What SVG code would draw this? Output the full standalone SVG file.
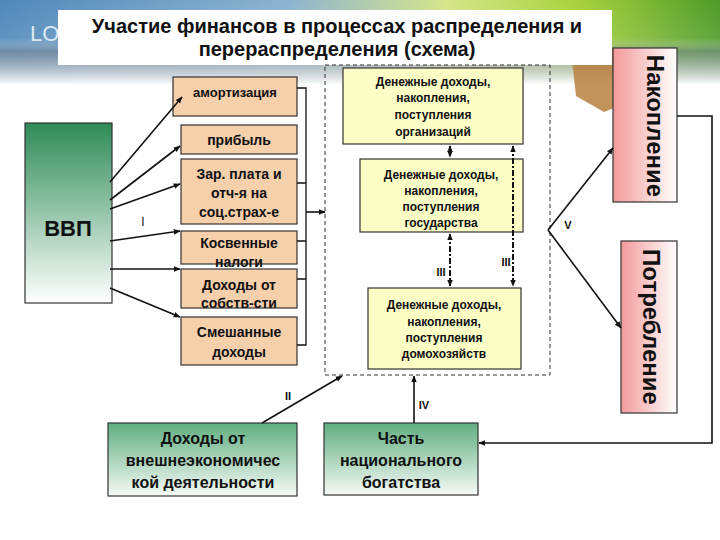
<svg xmlns="http://www.w3.org/2000/svg" width="720" height="540" viewBox="0 0 720 540">
<defs>
<linearGradient id="sky" x1="0" y1="0" x2="1" y2="0">
<stop offset="0" stop-color="#4f88ba"/>
<stop offset="0.4" stop-color="#8db3cf"/>
<stop offset="0.62" stop-color="#d6e58a"/>
<stop offset="0.8" stop-color="#a9d23c"/>
<stop offset="1" stop-color="#4e9a2a"/>
</linearGradient>
<linearGradient id="fade" x1="0" y1="0" x2="0" y2="1">
<stop offset="0" stop-color="#ffffff" stop-opacity="0"/>
<stop offset="0.45" stop-color="#ffffff" stop-opacity="0.1"/>
<stop offset="0.6" stop-color="#7f8c96" stop-opacity="0.6"/>
<stop offset="1" stop-color="#ffffff" stop-opacity="1"/>
</linearGradient>
<linearGradient id="gdp" x1="0" y1="0" x2="0" y2="1">
<stop offset="0" stop-color="#2e8b57"/>
<stop offset="1" stop-color="#ffffff"/>
</linearGradient>
<linearGradient id="grn" x1="0" y1="0" x2="0" y2="1">
<stop offset="0" stop-color="#5fae80"/>
<stop offset="1" stop-color="#f6faf6"/>
</linearGradient>
<linearGradient id="pink" x1="0" y1="0" x2="1" y2="0">
<stop offset="0" stop-color="#f39a9a"/>
<stop offset="1" stop-color="#ffffff"/>
</linearGradient>
<marker id="ah" viewBox="0 0 10 10" refX="9" refY="5" markerWidth="7" markerHeight="7" orient="auto-start-reverse" markerUnits="userSpaceOnUse">
<path d="M0,1 L10,5 L0,9 z" fill="#111"/>
</marker>
<style>
text{font-family:"Liberation Sans",Arial,sans-serif;font-weight:bold;fill:#111;text-anchor:middle}
.org rect{fill:#f6cfab;stroke:#333;stroke-width:1.2}
.org text{font-size:14px}
.yel rect{fill:#fdfdc6;stroke:#333;stroke-width:1.2}
.yel text{font-size:12px}
.gr rect{fill:url(#grn);stroke:#333;stroke-width:1.2}
.gr text{font-size:16px}
.pk rect{fill:url(#pink);stroke:#333;stroke-width:1.2}
.pk text{font-size:24px}
.ln{fill:none;stroke:#111;stroke-width:1.3}
.ar{fill:none;stroke:#111;stroke-width:1.6;marker-end:url(#ah)}
.dd{fill:none;stroke:#111;stroke-width:2;stroke-dasharray:6,2,2,2;marker-start:url(#ah);marker-end:url(#ah)}
.lbl{font-size:11px}
</style>
</defs>
<rect x="0" y="0" width="720" height="540" fill="#ffffff"/>
<rect x="0" y="0" width="720" height="85" fill="url(#sky)"/>
<rect x="0" y="0" width="720" height="85" fill="url(#fade)"/>
<polygon points="572,60 605,46 636,56 634,100 604,112 576,96" fill="#b9803f" opacity="0.85"/>
<text x="30" y="41" style="font-size:22px;fill:#dbe8f2;font-weight:normal;text-anchor:start">LOGO</text>
<g id="title">
<rect x="58" y="10" width="554" height="55" fill="#ffffff"/>
<text x="337" y="33" style="font-size:20px">Участие финансов в процессах распределения и</text>
<text x="337" y="56" style="font-size:20px">перераспределения (схема)</text>
</g>
<g id="container">
<rect x="325" y="65" width="225" height="310" fill="none" stroke="#333" stroke-width="1" stroke-dasharray="4,3"/>
</g>
<g id="vvp">
<rect x="25" y="123" width="87" height="180" fill="url(#gdp)" stroke="#333" stroke-width="1.2"/>
<text x="68" y="236" style="font-size:22px">ВВП</text>
</g>
<g id="amort" class="org"><rect x="173" y="77" width="124" height="39"/><text x="235" y="97" style="font-size:13px">амортизация</text></g>
<g id="profit" class="org"><rect x="181" y="125" width="116" height="29"/><text x="239" y="145">прибыль</text></g>
<g id="wage" class="org"><rect x="181" y="159" width="116" height="65"/><text x="239" y="179">Зар. плата и</text><text x="239" y="198">отч-я на</text><text x="239" y="217">соц.страх-е</text></g>
<g id="tax" class="org"><rect x="181" y="231" width="116" height="33"/><text x="239" y="248">Косвенные</text><text x="239" y="267">налоги</text></g>
<g id="prop" class="org"><rect x="181" y="269" width="116" height="39"/><text x="239" y="290">Доходы от</text><text x="239" y="308">собств-сти</text></g>
<g id="mixed" class="org"><rect x="181" y="317" width="116" height="48"/><text x="239" y="337">Смешанные</text><text x="239" y="357">доходы</text></g>
<g id="orgs" class="yel"><rect x="343" y="68" width="180" height="76"/><text x="433" y="86">Денежные доходы,</text><text x="433" y="102">накопления,</text><text x="433" y="119">поступления</text><text x="433" y="136">организаций</text></g>
<g id="state" class="yel"><rect x="360" y="159" width="163" height="73"/><text x="441" y="179">Денежные доходы,</text><text x="441" y="195">накопления,</text><text x="441" y="211">поступления</text><text x="441" y="227">государства</text></g>
<g id="house" class="yel"><rect x="368" y="288" width="153" height="81"/><text x="444" y="309">Денежные доходы,</text><text x="444" y="326">накопления,</text><text x="444" y="342">поступления</text><text x="444" y="358">домохозяйств</text></g>
<g id="foreign" class="gr"><rect x="108" y="423" width="189" height="73"/><text x="203" y="444">Доходы от</text><text x="203" y="466">внешнеэкономичес</text><text x="203" y="488">кой деятельности</text></g>
<g id="wealth" class="gr"><rect x="324" y="423" width="154" height="72"/><text x="401" y="444">Часть</text><text x="401" y="466">национального</text><text x="401" y="488">богатства</text></g>
<g id="accum" class="pk"><rect x="613" y="48" width="64" height="154"/><text transform="translate(655,126) rotate(90)" x="0" y="8">Накопление</text></g>
<g id="consum" class="pk"><rect x="621" y="241" width="56" height="172"/><text transform="translate(651,327) rotate(90)" x="0" y="8">Потребление</text></g>
<g id="connectors">
<path class="ar" d="M110,182 L182,97"/>
<path class="ar" d="M110,200 L180,146"/>
<path class="ar" d="M110,209 L180,184"/>
<path class="ar" d="M110,241 L180,231"/>
<path class="ar" d="M110,269 L180,269"/>
<path class="ar" d="M110,288 L180,317"/>
<path class="ln" d="M297,88 H306 V345 H297 M297,183 H306 M297,241 H306 M297,279 H306"/>
<path class="ar" d="M306,212 L325,212"/>
<path class="dd" d="M450,146 V157"/>
<path class="dd" d="M450,234 V286"/>
<path class="dd" d="M513,146 V286"/>
<path class="ar" d="M548,230 L613,148"/>
<path class="ar" d="M548,230 L621,328"/>
<path class="ar" d="M677,116 H712 V443 H479"/>
<path class="ar" d="M262,423 L342,376"/>
<path class="ar" d="M414,423 V376"/>
<text class="lbl" x="143" y="226" style="font-weight:normal;font-size:12px">I</text>
<text class="lbl" x="288" y="400">II</text>
<text class="lbl" x="441" y="276">III</text>
<text class="lbl" x="506" y="266">III</text>
<text class="lbl" x="424" y="409">IV</text>
<text class="lbl" x="568" y="229">V</text>
</g>
</svg>
